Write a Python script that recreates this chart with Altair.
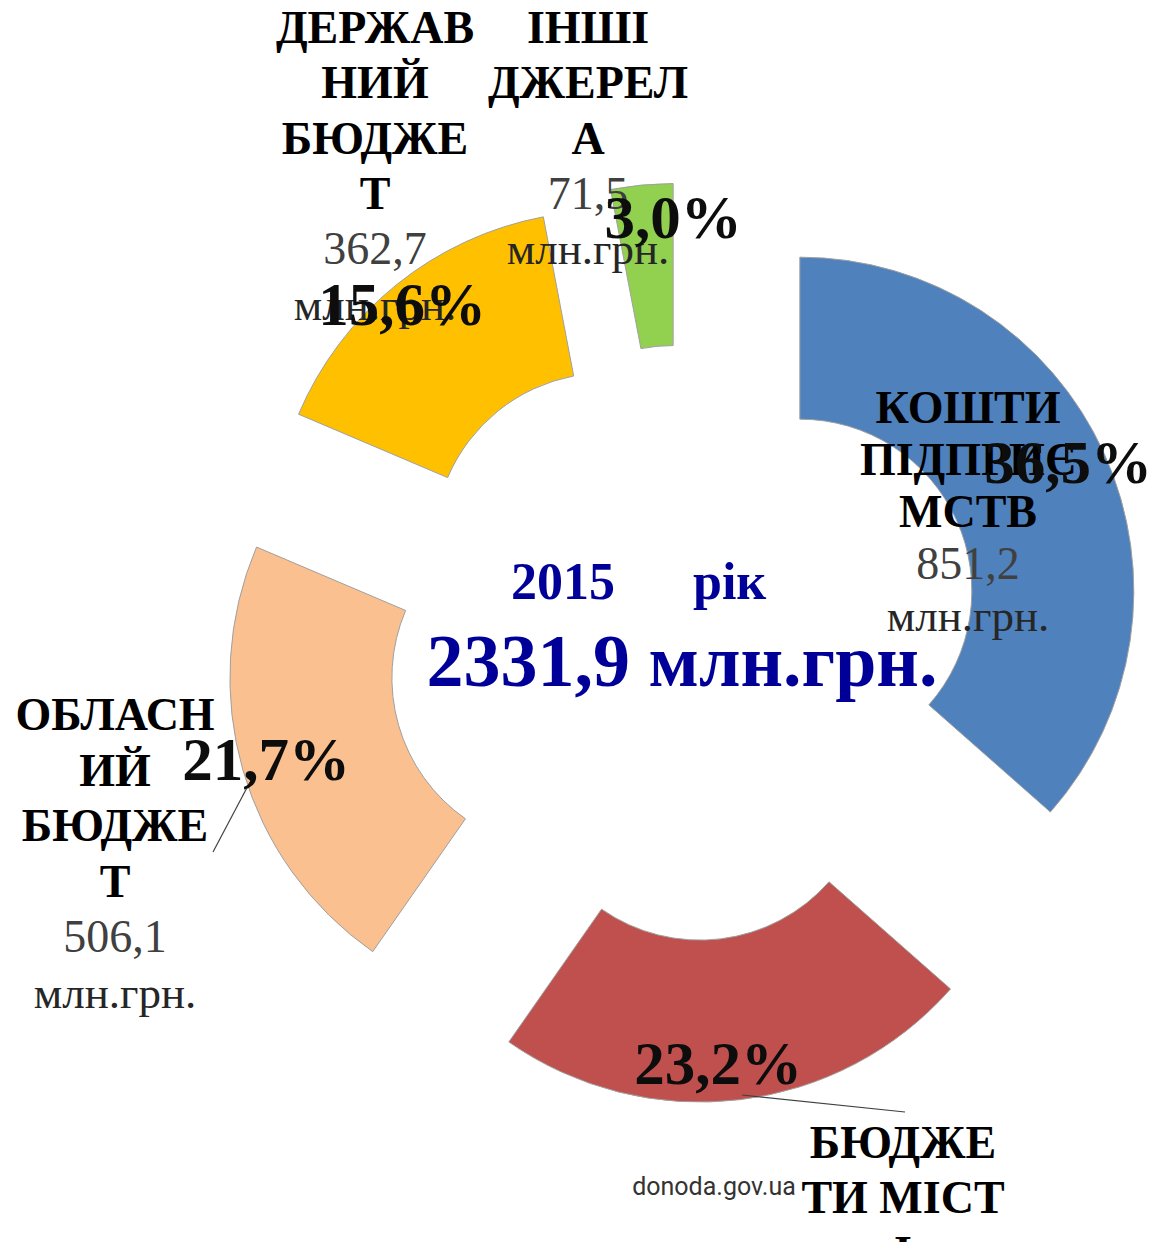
import altair as alt
import pandas as pd

# ---------------- data ----------------
categories = ["КОШТИ ПІДПРИЄМСТВ", "БЮДЖЕТИ МІСТ І", "ОБЛАСНИЙ БЮДЖЕТ",
              "ДЕРЖАВНИЙ БЮДЖЕТ", "ІНШІ ДЖЕРЕЛА"]
shares = [36.5, 23.2, 21.7, 15.6, 3.0]                 # per cent
amounts = ["851,2", None, "506,1", "362,7", "71,5"]     # млн.грн. (None = not visible)
name_lines = [["КОШТИ", "ПІДПРИЄ", "МСТВ"],
              ["БЮДЖЕ", "ТИ МІСТ", "І"],
              ["ОБЛАСН", "ИЙ", "БЮДЖЕ", "Т"],
              ["ДЕРЖАВ", "НИЙ", "БЮДЖЕ", "Т"],
              ["ІНШІ", "ДЖЕРЕЛ", "А"]]
unit = "млн.грн."
year_text = "2015" + "\u00a0" * 6 + "рік"
total_text = "2331,9 млн.грн."
colors = ["#4F81BD", "#C0504D", "#FAC090", "#FFC000", "#92D050"]

# ---------------- layout (page pixels) ----------------
M = 8                       # page margin
W, H = 1140, 1234
CX, CY = 685 - M, 643 - M   # centre of the unexploded ring
EXPLODE = 126
R_IN, R_OUT = 172, 334
SERIF = "Liberation Serif, Times New Roman, serif"

# label blocks: x centre, first baseline, line height
blocks = [(968, 423, 52), (903, 1158, 55), (115, 730, 55.5), (375, 43, 55.3), (588, 43, 55.3)]
# percent labels: x centre, baseline
pct_pos = [(1068, 483), (718, 1084), (266, 780), (402, 325), (673, 238)]
leaders = [(250, 782, 213, 852), (742, 1095, 905, 1112)]

# ---------------- tables ----------------
ring = pd.DataFrame({"cat": categories, "share": shares, "order": list(range(len(categories)))})

name_rows, value_rows, unit_rows = [], [], []
for i, (bx, by, lh) in enumerate(blocks):
    k = 0
    for line in name_lines[i]:
        name_rows.append({"t": line, "x": bx - M, "y": by + k * lh - M})
        k += 1
    if amounts[i] is not None:
        value_rows.append({"t": amounts[i], "x": bx - M, "y": by + k * lh - M})
        k += 1
        unit_rows.append({"t": unit, "x": bx - M, "y": by + k * lh - M})
names_df = pd.DataFrame(name_rows)
values_df = pd.DataFrame(value_rows)
units_df = pd.DataFrame(unit_rows)
pct_df = pd.DataFrame({
    "t": [f"{s:.1f}".replace(".", ",") + "%" for s in shares],
    "x": [p[0] - M for p in pct_pos],
    "y": [p[1] - M for p in pct_pos],
})
lead_df = pd.DataFrame([{"x": a - M, "y": b - M, "x2": c - M, "y2": d - M} for a, b, c, d in leaders])
center_df = pd.DataFrame([{"t": year_text, "x": 511 - M, "y": 599 - M}])
total_df = pd.DataFrame([{"t": total_text, "x": 682 - M, "y": 686 - M}])
mark_df = pd.DataFrame([{"t": "donoda.gov.ua", "x": 714 - M, "y": 1195 - M}])

PX = lambda f: alt.X(f, type="quantitative", scale=None, axis=None)
PY = lambda f: alt.Y(f, type="quantitative", scale=None, axis=None)

arcs = alt.Chart(ring).transform_joinaggregate(
    total="sum(share)"
).transform_window(
    cum="sum(share)", sort=[alt.SortField("order")], frame=[None, 0]
).transform_calculate(
    t1="2*PI*datum.cum/datum.total",
    t0="2*PI*(datum.cum-datum.share)/datum.total",
).transform_calculate(
    mid="(datum.t0+datum.t1)/2"
).transform_calculate(
    cx=f"{CX}+{EXPLODE}*sin(datum.mid)",
    cy=f"{CY}-{EXPLODE}*cos(datum.mid)",
).mark_arc(innerRadius=R_IN, outerRadius=R_OUT, stroke="#a0a0a0", strokeWidth=1).encode(
    theta=alt.Theta("t0:Q", scale=None, stack=False),
    theta2="t1:Q",
    x=PX("cx"), y=PY("cy"),
    color=alt.Color("cat:N", scale=alt.Scale(domain=categories, range=colors), legend=None),
)

def text_layer(df, size, weight, color, font=SERIF, align="center"):
    return alt.Chart(df).mark_text(
        font=font, fontSize=size, fontWeight=weight, color=color,
        align=align, baseline="alphabetic"
    ).encode(x=PX("x"), y=PY("y"), text="t:N")

leads = alt.Chart(lead_df).mark_rule(color="#404040", strokeWidth=1.2).encode(
    x=PX("x"), y=PY("y"), x2="x2:Q", y2="y2:Q")

chart = alt.layer(
    arcs,
    leads,
    text_layer(names_df, 46, "bold", "#000000"),
    text_layer(values_df, 46, "normal", "#404040"),
    text_layer(units_df, 45, "normal", "#262626"),
    text_layer(pct_df, 61, "bold", "#0d0d0d"),
    text_layer(center_df, 52, "bold", "#000099", align="left"),
    text_layer(total_df, 74, "bold", "#000099"),
    text_layer(mark_df, 25, "normal", "#333333", font="Roboto, sans-serif"),
).properties(
    width=W, height=H, autosize=alt.AutoSizeParams(type="none"), padding=0, background="white"
).configure_view(stroke=None)

chart.save("out.html", embed_options={"renderer": "svg", "actions": False})
